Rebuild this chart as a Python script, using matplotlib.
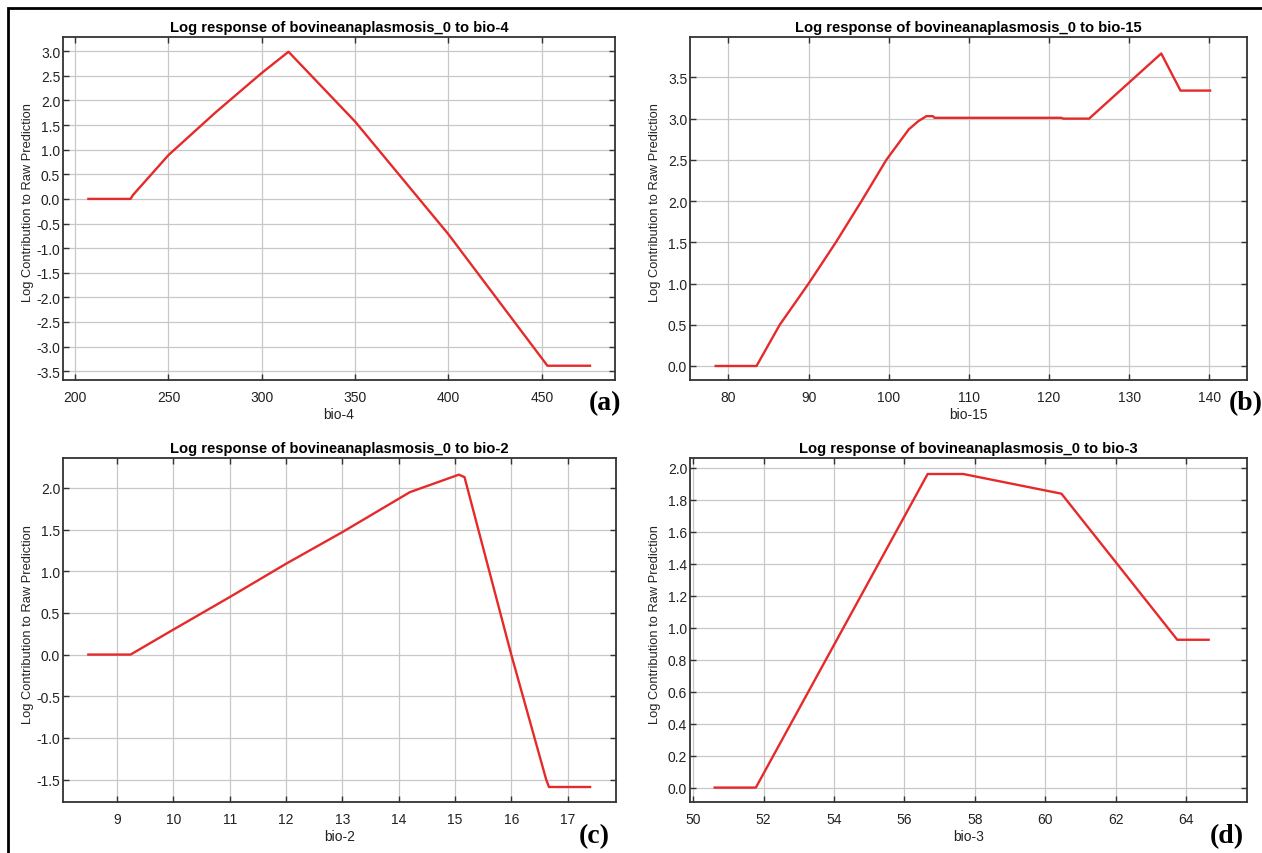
import matplotlib
matplotlib.use("Agg")
import matplotlib.pyplot as plt
from matplotlib.patches import Rectangle

# curve points
bio4_x = [207.1, 229.7, 231.0, 250.0, 275.0, 300.0, 314.3, 350.0, 400.0, 453.0, 475.8]
bio4_y = [0.0, 0.0, 0.08, 0.89, 1.75, 2.56, 2.99, 1.57, -0.72, -3.39, -3.39]

bio15_x = [78.4, 83.5, 86.4, 90.0, 93.4, 96.6, 99.7, 102.5, 103.7, 104.7, 105.5, 105.7,
           121.5, 121.8, 125.0, 134.0, 136.4, 140.1]
bio15_y = [0.0, 0.0, 0.5, 1.0, 1.5, 2.0, 2.5, 2.87, 2.97, 3.03, 3.03, 3.01,
           3.01, 3.0, 3.0, 3.79, 3.34, 3.34]

bio2_x = [8.49, 9.24, 10.0, 11.0, 12.0, 13.0, 14.0, 14.2, 15.07, 15.17, 16.0, 16.62, 16.67, 17.40]
bio2_y = [0.0, 0.0, 0.30, 0.69, 1.09, 1.47, 1.87, 1.95, 2.16, 2.13, 0.0, -1.5, -1.59, -1.59]

bio3_x = [50.61, 51.78, 56.66, 57.67, 60.46, 63.75, 64.64]
bio3_y = [0.0, 0.0, 1.96, 1.96, 1.837, 0.924, 0.924]

bio4_xticks = [200, 250, 300, 350, 400, 450]
bio4_yticks = [-3.5, -3.0, -2.5, -2.0, -1.5, -1.0, -0.5, 0.0, 0.5, 1.0, 1.5, 2.0, 2.5, 3.0]
bio15_xticks = [80, 90, 100, 110, 120, 130, 140]
bio15_yticks = [0.0, 0.5, 1.0, 1.5, 2.0, 2.5, 3.0, 3.5]
bio2_xticks = [9, 10, 11, 12, 13, 14, 15, 16, 17]
bio2_yticks = [-1.5, -1.0, -0.5, 0.0, 0.5, 1.0, 1.5, 2.0]
bio3_xticks = [50, 52, 54, 56, 58, 60, 62, 64]
bio3_yticks = [0.0, 0.2, 0.4, 0.6, 0.8, 1.0, 1.2, 1.4, 1.6, 1.8, 2.0]

plt.rcParams['font.family'] = ['Liberation Sans', 'DejaVu Sans']
plt.rcParams['axes.unicode_minus'] = False

W, H = 1262, 854
fig = plt.figure(figsize=(W / 100, H / 100), dpi=100)
fig.patch.set_facecolor('white')


def panel(box, x, y, xticks, yticks, xlim, ylim, var, letter, letter_pos):
    l, t, r, b = box
    ax = fig.add_axes([l / W, 1 - b / H, (r - l) / W, (b - t) / H])
    ax.plot(x, y, color='#e62a2a', lw=1.7, solid_joinstyle='round', zorder=3)
    ax.set_xticks(xticks)
    ax.set_yticks(yticks)
    ax.set_yticklabels([f"{v:.1f}" for v in yticks])
    ax.set_xlim(*xlim)
    ax.set_ylim(*ylim)
    ax.grid(True, color='#c8c8c8', lw=0.9)
    ax.set_axisbelow(True)
    for s in ax.spines.values():
        s.set_color('#333333')
        s.set_linewidth(1.3)
    ax.tick_params(direction='in', length=4, width=1, color='#333333',
                   top=True, right=True, labelsize=10, labelcolor='#222222')
    ax.tick_params(axis='x', pad=7)
    ax.tick_params(axis='y', pad=2)
    ax.set_title(f"Log response of bovineanaplasmosis_0 to {var}",
                 fontsize=10.6, fontweight='bold', pad=4)
    ax.set_xlabel(var, fontsize=10, color='#222222')
    ax.set_ylabel("Log Contribution to Raw Prediction", fontsize=9.3, color='#222222')
    ax.xaxis.set_label_coords(0.5, -27 / (b - t))
    ax.yaxis.set_label_coords(-29 / (r - l), 0.52)
    fig.text(letter_pos[0] / W, 1 - letter_pos[1] / H, letter, ha='center', va='center',
             fontsize=20, fontweight='bold', family='Liberation Serif')
    return ax


panel((63, 38, 615, 381), bio4_x, bio4_y, bio4_xticks, bio4_yticks,
      (193.5, 489.2), (-3.68, 3.29), 'bio-4', '(a)', (605, 404))
panel((690, 38, 1247, 381), bio15_x, bio15_y, bio15_xticks, bio15_yticks,
      (75.2, 144.7), (-0.17, 3.99), 'bio-15', '(b)', (1246, 404))
panel((63, 459, 616, 803), bio2_x, bio2_y, bio2_xticks, bio2_yticks,
      (8.04, 17.86), (-1.77, 2.36), 'bio-2', '(c)', (594, 837))
panel((690, 459, 1247, 803), bio3_x, bio3_y, bio3_xticks, bio3_yticks,
      (49.91, 65.73), (-0.09, 2.06), 'bio-3', '(d)', (1227, 837))

# outer frame (cut off at right and bottom in the reference)
fig.patches.append(Rectangle((8 / W, -0.1), 1.2, 1 - 9 / H + 0.1, transform=fig.transFigure,
                             fill=False, lw=2.0, edgecolor='black'))

fig.savefig('out.png', dpi=100)
